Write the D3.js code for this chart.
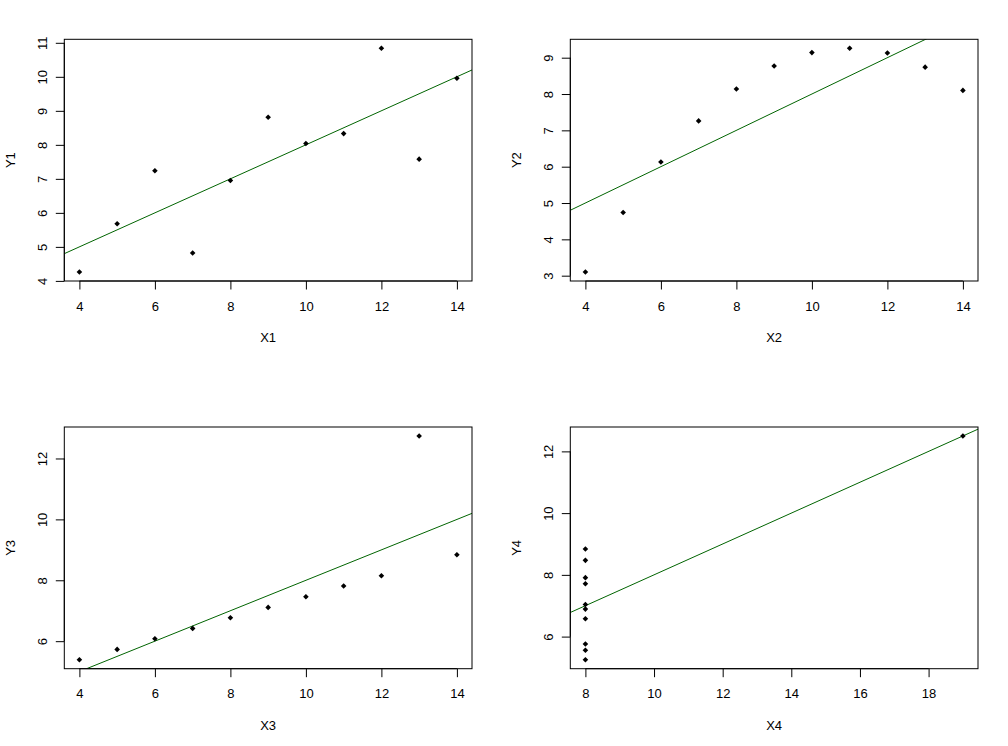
<!DOCTYPE html>
<html>
<head>
<meta charset="utf-8">
<script src="https://cdn.jsdelivr.net/npm/d3@7"></script>
<style>
  html, body { margin: 0; padding: 0; background: #fff; }
  svg { display: block; }
  text { font-family: "Liberation Sans", Arial, sans-serif; font-size: 13px; fill: #000; }
</style>
</head>
<body>
<svg id="chart" width="1008" height="746"></svg>
<script>
// ---- data (Anscombe's quartet) ----
const x1 = [10, 8, 13, 9, 11, 14, 6, 4, 12, 7, 5];
const y1 = [8.04, 6.95, 7.58, 8.81, 8.33, 9.96, 7.24, 4.26, 10.84, 4.82, 5.68];
const x2 = [10, 8, 13, 9, 11, 14, 6, 4, 12, 7, 5];
const y2 = [9.14, 8.14, 8.74, 8.77, 9.26, 8.10, 6.13, 3.10, 9.13, 7.26, 4.74];
const x3 = [10, 8, 13, 9, 11, 14, 6, 4, 12, 7, 5];
const y3 = [7.46, 6.77, 12.74, 7.11, 7.81, 8.84, 6.08, 5.39, 8.15, 6.42, 5.73];
const x4 = [8, 8, 8, 8, 8, 8, 8, 19, 8, 8, 8];
const y4 = [6.58, 5.76, 7.71, 8.84, 8.47, 7.04, 5.25, 12.50, 5.56, 7.91, 6.89];
const xLabels = ["X1", "X2", "X3", "X4"];
const yLabels = ["Y1", "Y2", "Y3", "Y4"];
const xTicks = [[4, 6, 8, 10, 12, 14], [4, 6, 8, 10, 12, 14], [4, 6, 8, 10, 12, 14], [8, 10, 12, 14, 16, 18]];
const yTicks = [[4, 5, 6, 7, 8, 9, 10, 11], [3, 4, 5, 6, 7, 8, 9], [6, 8, 10, 12], [6, 8, 10, 12]];
const fitIntercept = [3.0001, 3.0009, 3.0025, 3.0017];
const fitSlope = [0.5001, 0.5, 0.4997, 0.4999];

const xs = [x1, x2, x3, x4];
const ys = [y1, y2, y3, y4];

// ---- layout ----
const colOffset = [0, 506];
const rowOffset = [0, 387.7];
const plotLeft = 64.3, plotTop = 39.3, plotW = 407.7, plotH = 241.7;

const svg = d3.select("#chart");

function expand(arr) {
  const [lo, hi] = d3.extent(arr);
  const pad = (hi - lo) * 0.04;
  return [lo - pad, hi + pad];
}

const diamond = (s) => `M0,${-s}L${s},0L0,${s}L${-s},0Z`;

for (let i = 0; i < 4; i++) {
  const col = i % 2, row = Math.floor(i / 2);
  const L = colOffset[col] + plotLeft;
  const T = rowOffset[row] + plotTop;
  const xS = d3.scaleLinear().domain(expand(xs[i])).range([L, L + plotW]);
  const yS = d3.scaleLinear().domain(expand(ys[i])).range([T + plotH, T]);

  const g = svg.append("g");

  // clip for regression line
  const clipId = "clip" + i;
  svg.append("clipPath").attr("id", clipId)
    .append("rect").attr("x", L).attr("y", T).attr("width", plotW).attr("height", plotH);

  // regression line (abline)
  const [d0, d1] = xS.domain();
  g.append("line")
    .attr("clip-path", `url(#${clipId})`)
    .attr("x1", xS(d0)).attr("y1", yS(fitIntercept[i] + fitSlope[i] * d0))
    .attr("x2", xS(d1)).attr("y2", yS(fitIntercept[i] + fitSlope[i] * d1))
    .attr("stroke", "#006400").attr("stroke-width", 1);

  // points
  g.selectAll("path.pt").data(xs[i].map((v, k) => [v, ys[i][k]]))
    .enter().append("path")
    .attr("class", "pt")
    .attr("d", diamond(2.8))
    .attr("transform", d => `translate(${xS(d[0])},${yS(d[1])})`)
    .attr("fill", "#000");

  // box
  g.append("rect")
    .attr("x", L).attr("y", T).attr("width", plotW).attr("height", plotH)
    .attr("fill", "none").attr("stroke", "#000").attr("stroke-width", 1);

  // x axis
  const xAx = d3.axisBottom(xS).tickValues(xTicks[i]).tickSize(8.5).tickPadding(0).tickFormat(d3.format("d"));
  const gx = g.append("g").attr("transform", `translate(0,${T + plotH})`).call(xAx);
  gx.select(".domain").attr("d", `M${xS(xTicks[i][0])},0H${xS(xTicks[i][xTicks[i].length - 1])}`);
  gx.selectAll(".tick line").attr("stroke", "#000");
  gx.selectAll(".tick text").attr("y", 29.5).attr("dy", null)
    .style("font-family", "'Liberation Sans', Arial, sans-serif").style("font-size", "13px");

  // y axis
  const yAx = d3.axisLeft(yS).tickValues(yTicks[i]).tickSize(8.5).tickPadding(0).tickFormat(d3.format("d"));
  const gy = g.append("g").attr("transform", `translate(${L},0)`).call(yAx);
  gy.select(".domain").attr("d", `M0,${yS(yTicks[i][0])}V${yS(yTicks[i][yTicks[i].length - 1])}`);
  gy.selectAll(".tick line").attr("stroke", "#000");
  gy.selectAll(".tick text")
    .attr("x", null).attr("dy", null)
    .attr("text-anchor", "middle")
    .attr("transform", "translate(-17.6,0) rotate(-90)")
    .style("font-family", "'Liberation Sans', Arial, sans-serif").style("font-size", "13px");

  // axis titles
  g.append("text").attr("x", L + plotW / 2).attr("y", T + plotH + 61.3)
    .attr("text-anchor", "middle").text(xLabels[i]);
  g.append("text")
    .attr("transform", `translate(${L - 49.3},${T + plotH / 2}) rotate(-90)`)
    .attr("text-anchor", "middle").text(yLabels[i]);
}
</script>
</body>
</html>
